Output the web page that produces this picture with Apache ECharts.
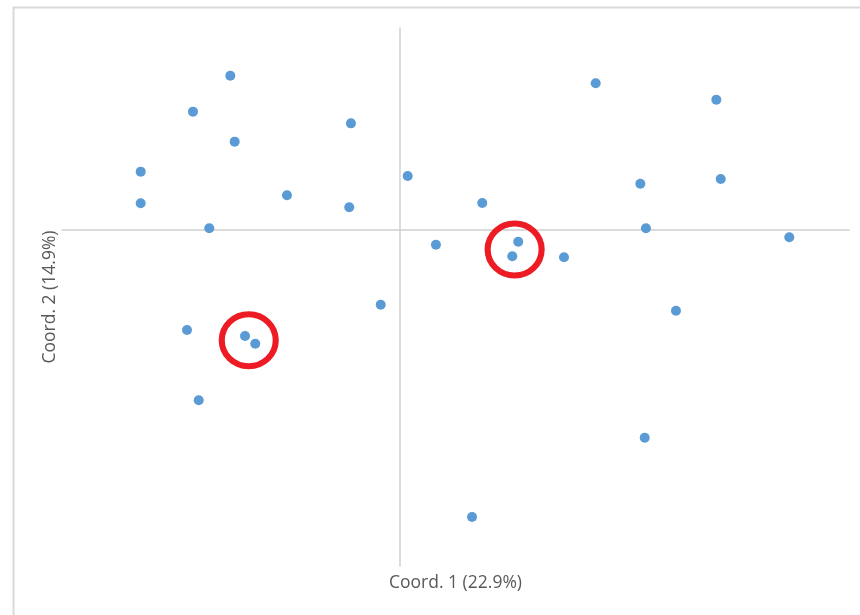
<!DOCTYPE html>
<html>
<head>
<meta charset="utf-8">
<style>
  html, body { margin: 0; padding: 0; background: #fff; }
  #pcoaChart { width: 860px; height: 615px; }
</style>
<script src="https://cdn.jsdelivr.net/npm/echarts@6/dist/echarts.min.js"></script>
</head>
<body>
<div id="pcoaChart"></div>
<script>
  // sample scores on the first two axes
  const coord1 = [
    -0.1503, -0.1835, -0.0430, -0.1464, -0.2300, -0.2300, -0.0999, -0.0445, -0.1690,
    0.1747, 0.2820, 0.0075, 0.0738, 0.2144, 0.2859, 0.2194, 0.3469, 0.0326,
    0.1058, 0.1005, 0.1465, -0.0165, -0.1888, -0.1372, -0.1281, -0.1784,
    0.2461, 0.2183, 0.0647
  ]
  const coord2 = [
    0.1145, 0.0878, 0.0791, 0.0655, 0.0432, 0.0197, 0.0256, 0.0167, 0.0011,
    0.1089, 0.0967, 0.0400, 0.0199, 0.0342, 0.0377, 0.0011, -0.0056, -0.0111,
    -0.0089, -0.0197, -0.0205, -0.0557, -0.0745, -0.0790, -0.0847, -0.1268,
    -0.0602, -0.1546, -0.2136
  ]
  // the two red rings drawn over the close pairs
  const ringX = [-0.1339, 0.1026]
  const ringY = [-0.0822, -0.0147]

  const axisNames = ['Coord. 1 (22.9%)', 'Coord. 2 (14.9%)']

  const points = coord1.map((x, i) => [x, coord2[i]])
  const rings = ringX.map((x, i) => [x, ringY[i]])

  const chart = echarts.init(document.getElementById('pcoaChart'))
  chart.setOption({
    animation: false,
    textStyle: { fontFamily: 'Open Sans' },
    graphic: [{
      type: 'rect',
      left: 11,
      top: 5,
      shape: { width: 900, height: 700 },
      style: { fill: 'none', stroke: '#d9d9d9', lineWidth: 2 },
      silent: true
    }],
    grid: { left: 62, right: 11, top: 28, bottom: 49 },
    xAxis: [
      {
        type: 'value',
        min: -0.3,
        max: 0.4,
        axisLine: { onZero: true, lineStyle: { color: '#d0d0d0', width: 1.5 } },
        axisTick: { show: false },
        axisLabel: { show: false },
        splitLine: { show: false }
      },
      {
        type: 'value',
        position: 'bottom',
        min: -0.3,
        max: 0.4,
        name: axisNames[0],
        nameLocation: 'middle',
        nameGap: 8,
        nameTextStyle: { color: '#595959', fontSize: 17.5, fontFamily: 'Open Sans' },
        axisLine: { show: false, onZero: false },
        axisTick: { show: false },
        axisLabel: { show: false },
        splitLine: { show: false }
      }
    ],
    yAxis: {
      type: 'value',
      min: -0.25,
      max: 0.15,
      name: axisNames[1],
      nameLocation: 'middle',
      nameGap: 3,
      nameTextStyle: { color: '#595959', fontSize: 17.5, fontFamily: 'Open Sans' },
      axisLine: { onZero: true, lineStyle: { color: '#d0d0d0', width: 1.5 } },
      axisTick: { show: false },
      axisLabel: { show: false },
      splitLine: { show: false }
    },
    series: [
      {
        name: 'samples',
        type: 'scatter',
        symbolSize: 10,
        itemStyle: { color: '#5b9bd5', opacity: 1 },
        data: points
      },
      {
        name: 'rings',
        type: 'scatter',
        symbol: 'circle',
        symbolSize: [54, 52],
        itemStyle: { color: 'none', borderColor: '#ed1c24', borderWidth: 6, opacity: 1 },
        data: rings,
        z: 3
      }
    ]
  })
</script>
</body>
</html>
